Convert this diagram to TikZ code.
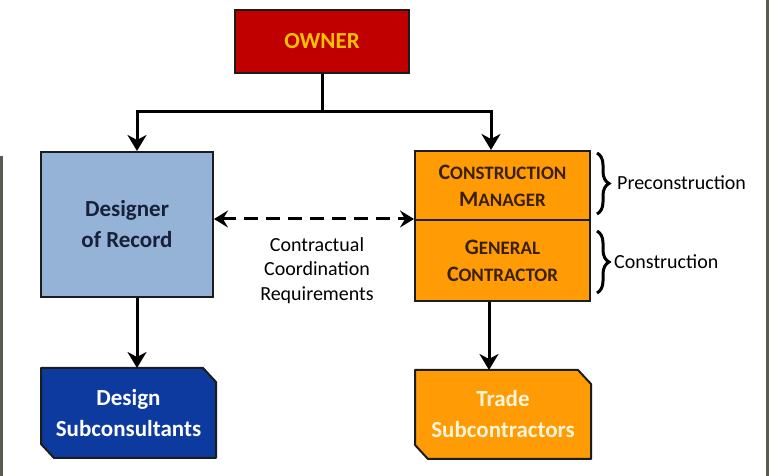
\documentclass[tikz,border=0pt]{standalone}
\usepackage{fontspec}
\setmainfont{Carlito}
\usetikzlibrary{arrows.meta,decorations.pathreplacing,backgrounds,calc}
\definecolor{ownerred}{HTML}{C00000}
\definecolor{ownertxt}{HTML}{FFC000}
\definecolor{dorblue}{HTML}{95B3D7}
\definecolor{dortxt}{HTML}{17223A}
\definecolor{gcorange}{HTML}{FF9B05}
\definecolor{gctxt}{HTML}{3A2000}
\definecolor{dsblue}{HTML}{0D3A9E}
\definecolor{tstxt}{HTML}{FFF4D6}
\definecolor{edge}{HTML}{1C1C1C}
\definecolor{strip}{HTML}{5A5B4E}
\newcommand\fakesc[2]{{\fontsize{22}{27}\selectfont #1}{\fontsize{19}{27}\selectfont #2}}
\tikzset{
  box/.style={draw=edge, line width=2pt, inner sep=2pt, align=center, font=\bfseries\fontsize{23}{31}\selectfont},
  scbox/.style={box, fill=gcorange, text=gctxt, font=\bfseries\fontsize{22}{27}\selectfont},
  arr/.style={line width=3pt, draw=black, -{Stealth[length=16pt,width=19pt,inset=5pt]}},
  darr/.style={line width=3pt, draw=black, dash pattern=on 14pt off 8pt, {Stealth[length=14pt,width=17pt,inset=5pt]}-{Stealth[length=14pt,width=17pt,inset=5pt]}},
  bracestyle/.style={line width=3pt, decorate, decoration={brace, amplitude=12pt}},
  note/.style={font=\fontsize{20}{24.5}\selectfont, align=center, inner sep=0pt}
}
\begin{document}
\begin{tikzpicture}[x=1pt,y=1pt]
\useasboundingbox (0,0) rectangle (769,476);

\node[box, fill=ownerred, text=ownertxt, minimum width=174pt, minimum height=63pt] (owner) at (322,434.5) {OWNER};
\node[box, fill=dorblue, text=dortxt, minimum width=172pt, minimum height=145pt] (dor) at (127,251.5) {Designer\\of Record};
\node[scbox, minimum width=175pt, minimum height=69pt] (cm) at (502.5,290.5) {\fakesc{C}{ONSTRUCTION}\\\fakesc{M}{ANAGER}};
\node[scbox, minimum width=175pt, minimum height=81pt] (gc) at (502.5,215.5) {\fakesc{G}{ENERAL}\\\fakesc{C}{ONTRACTOR}};

\node[box, draw=none, text=white, minimum width=173pt, minimum height=88pt] (ds) at (128.5,63) {Design\\Subconsultants};
\node[box, draw=none, text=tstxt, minimum width=174pt, minimum height=87pt] (ts) at (503,61.5) {Trade\\Subcontractors};
\begin{scope}[on background layer]
  \fill[white] (0,0) rectangle (769,476);
  \fill[strip] (0,0) rectangle (3,320);
  \fill[strip] (766,0) rectangle (769,476);
  \path[fill=dsblue, draw=edge, line width=2pt, line join=round]
    (ds.north west) -- ([xshift=-13pt]ds.north east) -- ([yshift=-14pt]ds.north east)
    -- (ds.south east) -- ([xshift=13pt]ds.south west) -- ([yshift=14pt]ds.south west) -- cycle;
  \path[fill=gcorange, draw=edge, line width=2pt, line join=round]
    (ts.north west) -- ([xshift=-13pt]ts.north east) -- ([yshift=-14pt]ts.north east)
    -- (ts.south east) -- ([xshift=13pt]ts.south west) -- ([yshift=14pt]ts.south west) -- cycle;
\end{scope}

\coordinate (j) at (322,364);
\draw[line width=3pt] (owner.south) -- (j);
\draw[arr] (j) -| ([xshift=10pt]dor.north);
\draw[arr] (j) -| ([xshift=-11.5pt]cm.north);
\draw[arr] ([xshift=10pt]dor.south) -- ([xshift=10pt]dor.south |- ds.north);
\draw[arr] ([xshift=-13.5pt]gc.south) -- ([xshift=-13.5pt]gc.south |- ts.north);
\draw[darr] (dor.east |- gc.north west) -- (gc.north west);

\node[note] (req) at (317,205.5) {Contractual\\Coordination\\Requirements};

\coordinate (b1t) at (597,323);
\coordinate (b1b) at (597,262);
\coordinate (b2t) at (597,245);
\coordinate (b2b) at (597,183);
\draw[bracestyle] (b1t) -- (b1b);
\draw[bracestyle] (b2t) -- (b2b);
\node[note, anchor=west] (pre) at (617,293) {Preconstruction};
\node[note, anchor=west] (con) at (614,214) {Construction};
\end{tikzpicture}
\end{document}
